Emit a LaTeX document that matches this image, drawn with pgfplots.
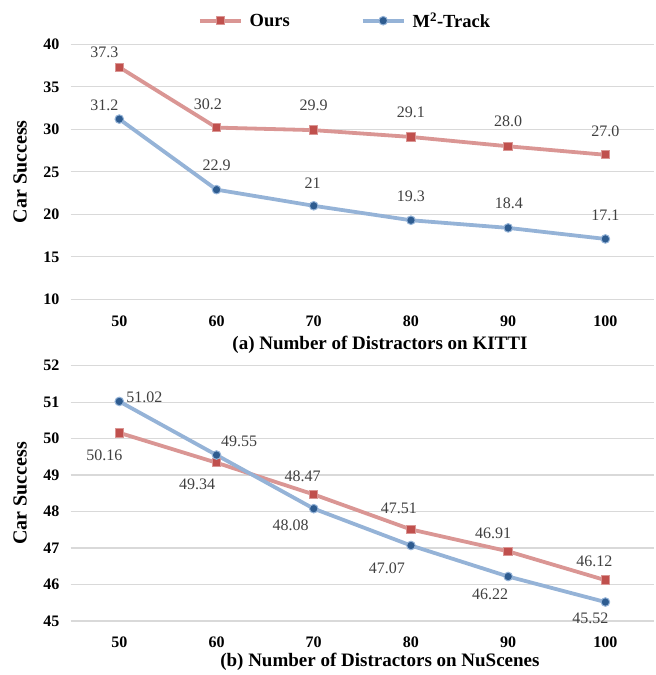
\documentclass[border=0pt]{standalone}
\usepackage{fontspec}
\setmainfont{Liberation Serif}
\usepackage{pgfplots}
\pgfplotsset{compat=1.18}
\definecolor{oursline}{HTML}{DA9694}
\definecolor{oursmark}{HTML}{C0504D}
\definecolor{m2line}{HTML}{95B3D7}
\definecolor{m2mark}{HTML}{2E5C90}
\definecolor{gridc}{HTML}{D9D9D9}
\definecolor{lblc}{HTML}{404040}
\tikzset{lbl/.style={font=\fontsize{16}{18}\selectfont, text=lblc, inner sep=0pt, anchor=center}}
\pgfplotsset{
  base/.style={
    scale only axis, width=583.3pt,
    xmin=-0.5, xmax=5.5,
    xtick={0,...,5}, xticklabels={50,60,70,80,90,100},
    axis line style={draw=none},
    major tick length=0pt,
    ymajorgrids, major grid style={gridc, line width=1.3pt},
    /pgf/number format/assume math mode=true,
    ticklabel style={font=\fontsize{16}{18}\selectfont\bfseries, inner sep=0pt},
    xticklabel style={anchor=center, yshift=-21.5pt},
    yticklabel style={anchor=east, xshift=-11pt},
    ylabel={Car Success},
    every axis y label/.style={at={(axis description cs:-0.0869,0.5)}, rotate=90, anchor=center, font=\fontsize{20}{22}\selectfont\bfseries},
    every axis x label/.style={at={(axis description cs:0.5,0)}, anchor=center, xshift=17.6pt, font=\fontsize{19}{21}\selectfont\bfseries},
    clip=false,
  },
  ours/.style={oursline, line width=3.8pt, mark=square*, mark size=4.2pt, mark options={fill=oursmark, draw=oursline, line width=1pt, solid}},
  m2/.style={m2line, line width=3.8pt, mark=*, mark size=4.3pt, mark options={fill=m2mark, draw=m2line, line width=1pt, solid}},
}
\begin{document}
\begin{tikzpicture}
\useasboundingbox (0,0) rectangle (656pt,675pt);
\begin{axis}[base,
  at={(70.7pt,375.7pt)}, anchor=south west, height=255pt,
  ymin=10, ymax=40, ytick={10,15,...,40},
  xlabel={(a) Number of Distractors on KITTI},
  x label style={yshift=-46pt},
  legend style={at={(axis description cs:0.4686,1.0925)}, anchor=center, draw=none, fill=none,
    font=\fontsize{18.5}{20}\selectfont\bfseries, nodes={inner sep=0pt},
    /tikz/every odd column/.style={column sep=7pt},
    /tikz/every even column/.style={column sep=71pt}},
  legend columns=2,
  legend image code/.code={\draw[#1, mark repeat=2, mark phase=2] plot coordinates {(0pt,0pt) (20.5pt,0pt) (41pt,0pt)};},
]
\addplot[ours] coordinates {(0,37.3) (1,30.2) (2,29.9) (3,29.1) (4,28.0) (5,27.0)};
\addlegendentry{Ours}
\addplot[m2] coordinates {(0,31.2) (1,22.9) (2,21) (3,19.3) (4,18.4) (5,17.1)};
\addlegendentry{M\textsuperscript{2}-Track}
\node[lbl, xshift=-15pt, yshift=15pt] at (axis cs:0,37.3) {37.3};
\node[lbl, xshift=-8.7pt, yshift=23pt] at (axis cs:1,30.2) {30.2};
\node[lbl, yshift=25pt] at (axis cs:2,29.9) {29.9};
\node[lbl, yshift=25pt] at (axis cs:3,29.1) {29.1};
\node[lbl, yshift=25pt] at (axis cs:4,28.0) {28.0};
\node[lbl, yshift=24pt] at (axis cs:5,27.0) {27.0};
\node[lbl, xshift=-15pt, yshift=14pt] at (axis cs:0,31.2) {31.2};
\node[lbl, yshift=24pt] at (axis cs:1,22.9) {22.9};
\node[lbl, xshift=-1pt, yshift=23pt] at (axis cs:2,21) {21};
\node[lbl, yshift=24pt] at (axis cs:3,19.3) {19.3};
\node[lbl, xshift=0.7pt, yshift=25pt] at (axis cs:4,18.4) {18.4};
\node[lbl, yshift=24pt] at (axis cs:5,17.1) {17.1};
\end{axis}
\begin{axis}[base,
  at={(70.7pt,54pt)}, anchor=south west, height=255.3pt,
  ymin=45, ymax=52, ytick={45,...,52},
  xlabel={(b) Number of Distractors on NuScenes},
  x label style={yshift=-40.5pt},
]
\addplot[ours] coordinates {(0,50.16) (1,49.34) (2,48.47) (3,47.51) (4,46.91) (5,46.12)};
\addplot[m2] coordinates {(0,51.02) (1,49.55) (2,48.08) (3,47.07) (4,46.22) (5,45.52)};
\node[lbl, xshift=-15pt, yshift=-22pt] at (axis cs:0,50.16) {50.16};
\node[lbl, xshift=-19.5pt, yshift=-21.7pt] at (axis cs:1,49.34) {49.34};
\node[lbl, xshift=-11pt, yshift=18pt] at (axis cs:2,48.47) {48.47};
\node[lbl, xshift=-12pt, yshift=21pt] at (axis cs:3,47.51) {47.51};
\node[lbl, xshift=-15pt, yshift=18pt] at (axis cs:4,46.91) {46.91};
\node[lbl, xshift=-11pt, yshift=19pt] at (axis cs:5,46.12) {46.12};
\node[lbl, xshift=25pt, yshift=4pt] at (axis cs:0,51.02) {51.02};
\node[lbl, xshift=22.5pt, yshift=14pt] at (axis cs:1,49.55) {49.55};
\node[lbl, xshift=-23pt, yshift=-17pt] at (axis cs:2,48.08) {48.08};
\node[lbl, xshift=-24pt, yshift=-22.7pt] at (axis cs:3,47.07) {47.07};
\node[lbl, xshift=-18pt, yshift=-18pt] at (axis cs:4,46.22) {46.22};
\node[lbl, xshift=-15pt, yshift=-16pt] at (axis cs:5,45.52) {45.52};
\end{axis}
\end{tikzpicture}
\end{document}
